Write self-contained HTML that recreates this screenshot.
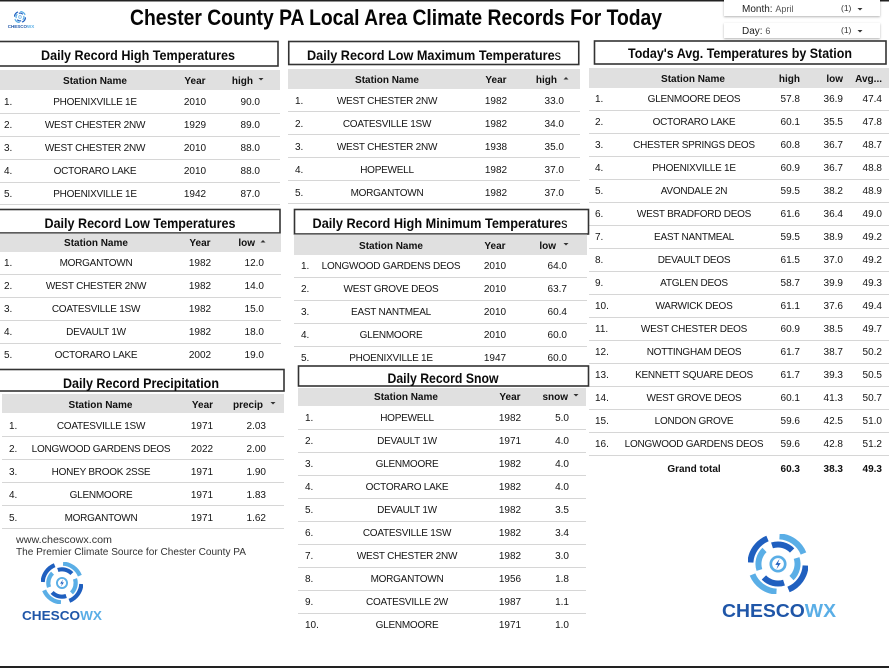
<!DOCTYPE html>
<html><head><meta charset="utf-8">
<style>
html,body{margin:0;padding:0;background:#fff;}
svg{display:block;font-family:"Liberation Sans",Arial,sans-serif;}
.t{font-size:10px;fill:#151515;letter-spacing:-0.25px}
.n{font-size:10px;fill:#151515}
.h{font-size:10px;font-weight:bold;fill:#111}
.g{font-size:10px;font-weight:bold;fill:#111}
.ti{font-size:14px;font-weight:bold;fill:#0a0a0a}
.m{text-anchor:middle}
.e{text-anchor:end}
.sep{stroke:#d6d6d6;stroke-width:1}
.hd{fill:#e0e0e0}
.box{fill:#fff;stroke:#333;stroke-width:1.6}
.ar{fill:#333}
</style></head><body>
<svg width="889" height="668" viewBox="0 0 889 668" xmlns="http://www.w3.org/2000/svg">
<defs>
<symbol id="sw" viewBox="-1 -1 2 2">
  <g fill="none" stroke-linecap="butt">
    <path d="M0.05,-0.92 A0.92,0.92 0 0 1 0.85,-0.35" stroke="#5aaee6" stroke-width="0.2"/>
    <path d="M0.92,0.05 A0.92,0.92 0 0 1 0.35,0.85" stroke="#1f5fbf" stroke-width="0.2"/>
    <path d="M-0.05,0.92 A0.92,0.92 0 0 1 -0.85,0.35" stroke="#5aaee6" stroke-width="0.2"/>
    <path d="M-0.92,-0.05 A0.92,0.92 0 0 1 -0.35,-0.85" stroke="#1f5fbf" stroke-width="0.2"/>
    <path d="M0.62,-0.2 A0.65,0.65 0 0 1 0.45,0.47" stroke="#5aaee6" stroke-width="0.2"/>
    <path d="M0.2,0.62 A0.65,0.65 0 0 1 -0.47,0.45" stroke="#1f5fbf" stroke-width="0.2"/>
    <path d="M-0.62,0.2 A0.65,0.65 0 0 1 -0.45,-0.47" stroke="#5aaee6" stroke-width="0.2"/>
    <path d="M-0.2,-0.62 A0.65,0.65 0 0 1 0.47,-0.45" stroke="#1f5fbf" stroke-width="0.2"/>
  </g>
  <circle r="0.24" fill="none" stroke="#5aaee6" stroke-width="0.09"/>
  <polygon points="0.05,-0.17 -0.09,0.03 0,0.03 -0.05,0.17 0.09,-0.03 0,-0.03" fill="#1f5fbf"/>
</symbol>
<filter id="sh" x="-5%" y="-30%" width="110%" height="180%">
  <feDropShadow dx="0" dy="1" stdDeviation="1" flood-color="#000" flood-opacity="0.3"/>
</filter>
</defs>

<rect x="0" y="0" width="889" height="1.5" fill="#222"/>
<rect x="0" y="666" width="889" height="2" fill="#222"/>

<use href="#sw" x="14" y="11" width="12" height="12"/>
<text x="21" y="28" font-size="4.5" font-weight="bold" fill="#1f56a8" text-anchor="middle">CHESCO<tspan fill="#5aaee6">WX</tspan></text>

<text x="396" y="25" font-size="22" font-weight="bold" fill="#050505" text-anchor="middle" textLength="532" lengthAdjust="spacingAndGlyphs">Chester County PA Local Area Climate Records For Today</text>

<rect x="724" y="-3" width="156" height="19" fill="#fff" filter="url(#sh)"/>
<text x="742" y="12" font-size="10" fill="#222">Month: <tspan font-size="9" fill="#555">April</tspan></text>
<text x="841" y="11" font-size="8.5" fill="#333">(1)</text>
<polygon class="ar" points="857.5,8 862.5,8 860,10.5"/>
<rect x="724" y="23" width="156" height="15" fill="#fff" filter="url(#sh)"/>
<text x="742" y="34" font-size="10" fill="#222">Day: <tspan font-size="9" fill="#555">6</tspan></text>
<text x="841" y="33" font-size="8.5" fill="#333">(1)</text>
<polygon class="ar" points="857.5,30 862.5,30 860,32.5"/>

<!-- Table 1 -->
<rect class="box" x="-2" y="41.5" width="280" height="24.5"/>
<text class="ti m" x="138" y="60" textLength="194" lengthAdjust="spacingAndGlyphs">Daily Record High Temperatures</text>
<rect class="hd" x="0" y="70" width="280" height="20"/>
<text class="h m" x="95" y="84">Station Name</text>
<text class="h m" x="195" y="84">Year</text>
<text class="h e" x="253" y="84">high</text>
<polygon class="ar" points="258.5,78 263.5,78 261,80.5"/>
<g>
<text class="n" x="4" y="105">1.</text><text class="t m" x="95" y="105">PHOENIXVILLE 1E</text><text class="n m" x="195" y="105">2010</text><text class="n e" x="260" y="105">90.0</text>
<text class="n" x="4" y="128">2.</text><text class="t m" x="95" y="128">WEST CHESTER 2NW</text><text class="n m" x="195" y="128">1929</text><text class="n e" x="260" y="128">89.0</text>
<text class="n" x="4" y="151">3.</text><text class="t m" x="95" y="151">WEST CHESTER 2NW</text><text class="n m" x="195" y="151">2010</text><text class="n e" x="260" y="151">88.0</text>
<text class="n" x="4" y="174">4.</text><text class="t m" x="95" y="174">OCTORARO LAKE</text><text class="n m" x="195" y="174">2010</text><text class="n e" x="260" y="174">88.0</text>
<text class="n" x="4" y="197">5.</text><text class="t m" x="95" y="197">PHOENIXVILLE 1E</text><text class="n m" x="195" y="197">1942</text><text class="n e" x="260" y="197">87.0</text>
</g>
<line class="sep" x1="0" x2="280" y1="113.5" y2="113.5"/>
<line class="sep" x1="0" x2="280" y1="136.5" y2="136.5"/>
<line class="sep" x1="0" x2="280" y1="159.5" y2="159.5"/>
<line class="sep" x1="0" x2="280" y1="182.5" y2="182.5"/>
<line class="sep" x1="0" x2="280" y1="204.5" y2="204.5"/>

<!-- Table 2 -->
<rect class="box" x="288.75" y="41.5" width="290" height="23"/>
<text class="ti m" x="434" y="60" textLength="254" lengthAdjust="spacingAndGlyphs">Daily Record Low Maximum Temperature<tspan font-weight="normal">s</tspan></text>
<rect class="hd" x="288" y="69" width="292" height="20"/>
<text class="h m" x="387" y="83">Station Name</text>
<text class="h m" x="496" y="83">Year</text>
<text class="h e" x="557" y="83">high</text>
<polygon class="ar" points="563.5,79.5 568.5,79.5 566,77"/>
<g>
<text class="n" x="295" y="104">1.</text><text class="t m" x="387" y="104">WEST CHESTER 2NW</text><text class="n m" x="496" y="104">1982</text><text class="n e" x="564" y="104">33.0</text>
<text class="n" x="295" y="127">2.</text><text class="t m" x="387" y="127">COATESVILLE 1SW</text><text class="n m" x="496" y="127">1982</text><text class="n e" x="564" y="127">34.0</text>
<text class="n" x="295" y="150">3.</text><text class="t m" x="387" y="150">WEST CHESTER 2NW</text><text class="n m" x="496" y="150">1938</text><text class="n e" x="564" y="150">35.0</text>
<text class="n" x="295" y="173">4.</text><text class="t m" x="387" y="173">HOPEWELL</text><text class="n m" x="496" y="173">1982</text><text class="n e" x="564" y="173">37.0</text>
<text class="n" x="295" y="196">5.</text><text class="t m" x="387" y="196">MORGANTOWN</text><text class="n m" x="496" y="196">1982</text><text class="n e" x="564" y="196">37.0</text>
</g>
<line class="sep" x1="288" x2="580" y1="111.5" y2="111.5"/>
<line class="sep" x1="288" x2="580" y1="134.5" y2="134.5"/>
<line class="sep" x1="288" x2="580" y1="157.5" y2="157.5"/>
<line class="sep" x1="288" x2="580" y1="180.5" y2="180.5"/>
<line class="sep" x1="288" x2="580" y1="203.5" y2="203.5"/>

<!-- Right table -->
<rect class="box" x="594.5" y="41" width="291.5" height="23"/>
<text class="ti m" x="740" y="58" textLength="224" lengthAdjust="spacingAndGlyphs">Today's Avg. Temperatures by Station</text>
<rect class="hd" x="589" y="68" width="300" height="20"/>
<text class="h m" x="693" y="82">Station Name</text>
<text class="h e" x="800" y="82">high</text>
<text class="h e" x="843" y="82">low</text>
<text class="h e" x="882" y="82">Avg...</text>
<g>
<text class="n" x="595" y="102">1.</text><text class="t m" x="694" y="102">GLENMOORE DEOS</text><text class="n e" x="800" y="102">57.8</text><text class="n e" x="843" y="102">36.9</text><text class="n e" x="882" y="102">47.4</text>
<text class="n" x="595" y="125">2.</text><text class="t m" x="694" y="125">OCTORARO LAKE</text><text class="n e" x="800" y="125">60.1</text><text class="n e" x="843" y="125">35.5</text><text class="n e" x="882" y="125">47.8</text>
<text class="n" x="595" y="148">3.</text><text class="t m" x="694" y="148">CHESTER SPRINGS DEOS</text><text class="n e" x="800" y="148">60.8</text><text class="n e" x="843" y="148">36.7</text><text class="n e" x="882" y="148">48.7</text>
<text class="n" x="595" y="171">4.</text><text class="t m" x="694" y="171">PHOENIXVILLE 1E</text><text class="n e" x="800" y="171">60.9</text><text class="n e" x="843" y="171">36.7</text><text class="n e" x="882" y="171">48.8</text>
<text class="n" x="595" y="194">5.</text><text class="t m" x="694" y="194">AVONDALE 2N</text><text class="n e" x="800" y="194">59.5</text><text class="n e" x="843" y="194">38.2</text><text class="n e" x="882" y="194">48.9</text>
<text class="n" x="595" y="217">6.</text><text class="t m" x="694" y="217">WEST BRADFORD DEOS</text><text class="n e" x="800" y="217">61.6</text><text class="n e" x="843" y="217">36.4</text><text class="n e" x="882" y="217">49.0</text>
<text class="n" x="595" y="240">7.</text><text class="t m" x="694" y="240">EAST NANTMEAL</text><text class="n e" x="800" y="240">59.5</text><text class="n e" x="843" y="240">38.9</text><text class="n e" x="882" y="240">49.2</text>
<text class="n" x="595" y="263">8.</text><text class="t m" x="694" y="263">DEVAULT DEOS</text><text class="n e" x="800" y="263">61.5</text><text class="n e" x="843" y="263">37.0</text><text class="n e" x="882" y="263">49.2</text>
<text class="n" x="595" y="286">9.</text><text class="t m" x="694" y="286">ATGLEN DEOS</text><text class="n e" x="800" y="286">58.7</text><text class="n e" x="843" y="286">39.9</text><text class="n e" x="882" y="286">49.3</text>
<text class="n" x="595" y="309">10.</text><text class="t m" x="694" y="309">WARWICK DEOS</text><text class="n e" x="800" y="309">61.1</text><text class="n e" x="843" y="309">37.6</text><text class="n e" x="882" y="309">49.4</text>
<text class="n" x="595" y="332">11.</text><text class="t m" x="694" y="332">WEST CHESTER DEOS</text><text class="n e" x="800" y="332">60.9</text><text class="n e" x="843" y="332">38.5</text><text class="n e" x="882" y="332">49.7</text>
<text class="n" x="595" y="355">12.</text><text class="t m" x="694" y="355">NOTTINGHAM DEOS</text><text class="n e" x="800" y="355">61.7</text><text class="n e" x="843" y="355">38.7</text><text class="n e" x="882" y="355">50.2</text>
<text class="n" x="595" y="378">13.</text><text class="t m" x="694" y="378">KENNETT SQUARE DEOS</text><text class="n e" x="800" y="378">61.7</text><text class="n e" x="843" y="378">39.3</text><text class="n e" x="882" y="378">50.5</text>
<text class="n" x="595" y="401">14.</text><text class="t m" x="694" y="401">WEST GROVE DEOS</text><text class="n e" x="800" y="401">60.1</text><text class="n e" x="843" y="401">41.3</text><text class="n e" x="882" y="401">50.7</text>
<text class="n" x="595" y="424">15.</text><text class="t m" x="694" y="424">LONDON GROVE</text><text class="n e" x="800" y="424">59.6</text><text class="n e" x="843" y="424">42.5</text><text class="n e" x="882" y="424">51.0</text>
<text class="n" x="595" y="447">16.</text><text class="t m" x="694" y="447">LONGWOOD GARDENS DEOS</text><text class="n e" x="800" y="447">59.6</text><text class="n e" x="843" y="447">42.8</text><text class="n e" x="882" y="447">51.2</text>
<text class="g m" x="694" y="472">Grand total</text><text class="g e" x="800" y="472">60.3</text><text class="g e" x="843" y="472">38.3</text><text class="g e" x="882" y="472">49.3</text>
</g>
<g class="sep">
<line x1="589" x2="889" y1="110.5" y2="110.5"/>
<line x1="589" x2="889" y1="133.5" y2="133.5"/>
<line x1="589" x2="889" y1="156.5" y2="156.5"/>
<line x1="589" x2="889" y1="179.5" y2="179.5"/>
<line x1="589" x2="889" y1="202.5" y2="202.5"/>
<line x1="589" x2="889" y1="225.5" y2="225.5"/>
<line x1="589" x2="889" y1="248.5" y2="248.5"/>
<line x1="589" x2="889" y1="271.5" y2="271.5"/>
<line x1="589" x2="889" y1="294.5" y2="294.5"/>
<line x1="589" x2="889" y1="317.5" y2="317.5"/>
<line x1="589" x2="889" y1="340.5" y2="340.5"/>
<line x1="589" x2="889" y1="363.5" y2="363.5"/>
<line x1="589" x2="889" y1="386.5" y2="386.5"/>
<line x1="589" x2="889" y1="409.5" y2="409.5"/>
<line x1="589" x2="889" y1="432.5" y2="432.5"/>
<line x1="589" x2="889" y1="455.5" y2="455.5"/>
</g>

<!-- Low Temperatures -->
<rect class="box" x="-2" y="209.5" width="282" height="23.5"/>
<text class="ti m" x="140" y="228" textLength="191" lengthAdjust="spacingAndGlyphs">Daily Record Low Temperatures</text>
<rect class="hd" x="0" y="233.5" width="281" height="18.5"/>
<text class="h m" x="96" y="246">Station Name</text>
<text class="h m" x="200" y="246">Year</text>
<text class="h e" x="255" y="246">low</text>
<polygon class="ar" points="260.5,242.5 265.5,242.5 263,240"/>
<g>
<text class="n" x="4" y="266">1.</text><text class="t m" x="96" y="266">MORGANTOWN</text><text class="n m" x="200" y="266">1982</text><text class="n e" x="264" y="266">12.0</text>
<text class="n" x="4" y="289">2.</text><text class="t m" x="96" y="289">WEST CHESTER 2NW</text><text class="n m" x="200" y="289">1982</text><text class="n e" x="264" y="289">14.0</text>
<text class="n" x="4" y="312">3.</text><text class="t m" x="96" y="312">COATESVILLE 1SW</text><text class="n m" x="200" y="312">1982</text><text class="n e" x="264" y="312">15.0</text>
<text class="n" x="4" y="335">4.</text><text class="t m" x="96" y="335">DEVAULT 1W</text><text class="n m" x="200" y="335">1982</text><text class="n e" x="264" y="335">18.0</text>
<text class="n" x="4" y="358">5.</text><text class="t m" x="96" y="358">OCTORARO LAKE</text><text class="n m" x="200" y="358">2002</text><text class="n e" x="264" y="358">19.0</text>
</g>
<line class="sep" x1="0" x2="281" y1="274.5" y2="274.5"/>
<line class="sep" x1="0" x2="281" y1="297.5" y2="297.5"/>
<line class="sep" x1="0" x2="281" y1="320.5" y2="320.5"/>
<line class="sep" x1="0" x2="281" y1="343.5" y2="343.5"/>

<!-- Precipitation -->
<rect class="box" x="-2" y="369.5" width="286" height="21.5"/>
<text class="ti m" x="141" y="388" textLength="156" lengthAdjust="spacingAndGlyphs">Daily Record Precipitation</text>
<rect class="hd" x="2" y="394" width="282" height="19"/>
<text class="h m" x="100.5" y="408">Station Name</text>
<text class="h m" x="202.5" y="408">Year</text>
<text class="h e" x="263" y="408">precip</text>
<polygon class="ar" points="270.5,402 275.5,402 273,404.5"/>
<g>
<text class="n" x="9" y="429">1.</text><text class="t m" x="101" y="429">COATESVILLE 1SW</text><text class="n m" x="202" y="429">1971</text><text class="n e" x="266" y="429">2.03</text>
<text class="n" x="9" y="452">2.</text><text class="t m" x="101" y="452">LONGWOOD GARDENS DEOS</text><text class="n m" x="202" y="452">2022</text><text class="n e" x="266" y="452">2.00</text>
<text class="n" x="9" y="475">3.</text><text class="t m" x="101" y="475">HONEY BROOK 2SSE</text><text class="n m" x="202" y="475">1971</text><text class="n e" x="266" y="475">1.90</text>
<text class="n" x="9" y="498">4.</text><text class="t m" x="101" y="498">GLENMOORE</text><text class="n m" x="202" y="498">1971</text><text class="n e" x="266" y="498">1.83</text>
<text class="n" x="9" y="521">5.</text><text class="t m" x="101" y="521">MORGANTOWN</text><text class="n m" x="202" y="521">1971</text><text class="n e" x="266" y="521">1.62</text>
</g>
<line class="sep" x1="2" x2="284" y1="436.5" y2="436.5"/>
<line class="sep" x1="2" x2="284" y1="459.5" y2="459.5"/>
<line class="sep" x1="2" x2="284" y1="482.5" y2="482.5"/>
<line class="sep" x1="2" x2="284" y1="505.5" y2="505.5"/>
<line class="sep" x1="2" x2="284" y1="528.5" y2="528.5"/>

<text x="16" y="543" font-size="10.5" fill="#333" textLength="96" lengthAdjust="spacingAndGlyphs">www.chescowx.com</text>
<text x="16" y="555" font-size="10.5" fill="#333" textLength="230" lengthAdjust="spacingAndGlyphs">The Premier Climate Source for Chester County PA</text>
<use href="#sw" x="41" y="562" width="42" height="42"/>
<text x="22" y="620" font-size="13" font-weight="bold" fill="#1f56a8" textLength="80" lengthAdjust="spacingAndGlyphs">CHESCO<tspan fill="#5aaee6">WX</tspan></text>

<!-- High Minimum -->
<rect class="box" x="294.5" y="209.5" width="294" height="24.5"/>
<text class="ti m" x="440" y="228" textLength="255" lengthAdjust="spacingAndGlyphs">Daily Record High Minimum Temperature<tspan font-weight="normal">s</tspan></text>
<rect class="hd" x="294" y="234.5" width="293" height="20.5"/>
<text class="h m" x="391" y="249">Station Name</text>
<text class="h m" x="495" y="249">Year</text>
<text class="h e" x="556" y="249">low</text>
<polygon class="ar" points="563.5,243 568.5,243 566,245.5"/>
<g>
<text class="n" x="301" y="269">1.</text><text class="t m" x="391" y="269">LONGWOOD GARDENS DEOS</text><text class="n m" x="495" y="269">2010</text><text class="n e" x="567" y="269">64.0</text>
<text class="n" x="301" y="292">2.</text><text class="t m" x="391" y="292">WEST GROVE DEOS</text><text class="n m" x="495" y="292">2010</text><text class="n e" x="567" y="292">63.7</text>
<text class="n" x="301" y="315">3.</text><text class="t m" x="391" y="315">EAST NANTMEAL</text><text class="n m" x="495" y="315">2010</text><text class="n e" x="567" y="315">60.4</text>
<text class="n" x="301" y="338">4.</text><text class="t m" x="391" y="338">GLENMOORE</text><text class="n m" x="495" y="338">2010</text><text class="n e" x="567" y="338">60.0</text>
<text class="n" x="301" y="361">5.</text><text class="t m" x="391" y="361">PHOENIXVILLE 1E</text><text class="n m" x="495" y="361">1947</text><text class="n e" x="567" y="361">60.0</text>
</g>
<line class="sep" x1="294" x2="587" y1="277.5" y2="277.5"/>
<line class="sep" x1="294" x2="587" y1="300.5" y2="300.5"/>
<line class="sep" x1="294" x2="587" y1="323.5" y2="323.5"/>
<line class="sep" x1="294" x2="587" y1="346.5" y2="346.5"/>

<!-- Snow -->
<rect class="box" x="298.5" y="366" width="290" height="20"/>
<text class="ti m" x="443" y="383" textLength="111" lengthAdjust="spacingAndGlyphs">Daily Record Snow</text>
<rect class="hd" x="298" y="388" width="288" height="18"/>
<text class="h m" x="406" y="400">Station Name</text>
<text class="h m" x="510" y="400">Year</text>
<text class="h e" x="568" y="400">snow</text>
<polygon class="ar" points="573.5,394 578.5,394 576,396.5"/>
<g>
<text class="n" x="305" y="421">1.</text><text class="t m" x="407" y="421">HOPEWELL</text><text class="n m" x="510" y="421">1982</text><text class="n e" x="569" y="421">5.0</text>
<text class="n" x="305" y="444">2.</text><text class="t m" x="407" y="444">DEVAULT 1W</text><text class="n m" x="510" y="444">1971</text><text class="n e" x="569" y="444">4.0</text>
<text class="n" x="305" y="467">3.</text><text class="t m" x="407" y="467">GLENMOORE</text><text class="n m" x="510" y="467">1982</text><text class="n e" x="569" y="467">4.0</text>
<text class="n" x="305" y="490">4.</text><text class="t m" x="407" y="490">OCTORARO LAKE</text><text class="n m" x="510" y="490">1982</text><text class="n e" x="569" y="490">4.0</text>
<text class="n" x="305" y="513">5.</text><text class="t m" x="407" y="513">DEVAULT 1W</text><text class="n m" x="510" y="513">1982</text><text class="n e" x="569" y="513">3.5</text>
<text class="n" x="305" y="536">6.</text><text class="t m" x="407" y="536">COATESVILLE 1SW</text><text class="n m" x="510" y="536">1982</text><text class="n e" x="569" y="536">3.4</text>
<text class="n" x="305" y="559">7.</text><text class="t m" x="407" y="559">WEST CHESTER 2NW</text><text class="n m" x="510" y="559">1982</text><text class="n e" x="569" y="559">3.0</text>
<text class="n" x="305" y="582">8.</text><text class="t m" x="407" y="582">MORGANTOWN</text><text class="n m" x="510" y="582">1956</text><text class="n e" x="569" y="582">1.8</text>
<text class="n" x="305" y="605">9.</text><text class="t m" x="407" y="605">COATESVILLE 2W</text><text class="n m" x="510" y="605">1987</text><text class="n e" x="569" y="605">1.1</text>
<text class="n" x="305" y="628">10.</text><text class="t m" x="407" y="628">GLENMOORE</text><text class="n m" x="510" y="628">1971</text><text class="n e" x="569" y="628">1.0</text>
</g>
<g class="sep">
<line x1="298" x2="586" y1="429.5" y2="429.5"/>
<line x1="298" x2="586" y1="452.5" y2="452.5"/>
<line x1="298" x2="586" y1="475.5" y2="475.5"/>
<line x1="298" x2="586" y1="498.5" y2="498.5"/>
<line x1="298" x2="586" y1="521.5" y2="521.5"/>
<line x1="298" x2="586" y1="544.5" y2="544.5"/>
<line x1="298" x2="586" y1="567.5" y2="567.5"/>
<line x1="298" x2="586" y1="590.5" y2="590.5"/>
<line x1="298" x2="586" y1="613.5" y2="613.5"/>
</g>

<use href="#sw" x="748" y="534" width="60" height="60"/>
<text x="722" y="617" font-size="18.5" font-weight="bold" fill="#1f56a8" textLength="114" lengthAdjust="spacingAndGlyphs">CHESCO<tspan fill="#5aaee6">WX</tspan></text>
</svg>
</body></html>
